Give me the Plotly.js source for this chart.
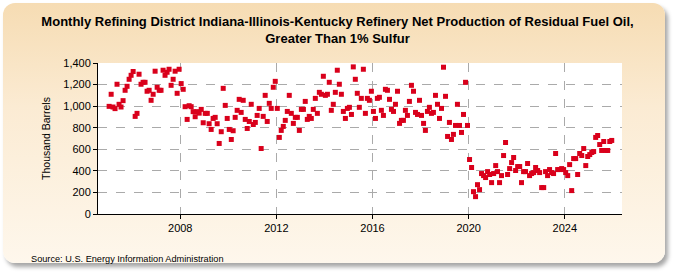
<!DOCTYPE html>
<html>
<head>
<meta charset="utf-8">
<script src="https://cdn.plot.ly/plotly-3.0.1.min.js"></script>
<style>
html,body{margin:0;padding:0;background:#ffffff;}
#wrap{position:relative;width:675px;height:275px;overflow:hidden;}
#panel{position:absolute;left:3px;top:3px;width:662px;height:260px;border-radius:12px;
background:linear-gradient(to bottom,#F6DCB3 0%,#FBEBD3 40%,#FEF7EC 100%);
box-shadow:3px 4px 4px rgba(0,0,0,0.35);}
#chart{position:absolute;left:0;top:0;width:675px;height:275px;}
</style>
</head>
<body>
<div id="wrap"><div id="panel"></div><div id="chart"></div></div>
<script>
const startYear = 2005;
const v2005 = [998,1110,992,977,1203,1017,992,1051,1147,1184,1249,1286];
const v2006 = [1321,905,933,1296,1203,1221,1221,1138,1147,1054,1110,1324];
const v2007 = [1175,1147,1147,1333,1286,1314,1342,1193,1249,1324,1119,1342];
const v2008 = [1209,1156,995,877,1004,995,949,902,949,935,970,846];
const v2009 = [933,933,837,784,886,896,837,654,763,1165,1007,886];
const v2010 = [784,691,772,896,961,1063,942,1054,877,793,858,1017];
const v2011 = [830,849,914,979,607,905,1100,858,1026,979,1175,1230];
const v2012 = [979,710,775,812,868,951,1100,933,840,896,896,775];
const v2013 = [970,970,1044,877,905,886,970,1072,933,1128,1110,1277];
const v2014 = [1100,1110,1221,961,1017,1128,1333,1203,1110,951,886,979];
const v2015 = [989,923,1364,1249,1119,989,1072,1342,933,1072,1054,1138];
const v2016 = [951,886,1072,1082,961,914,1156,1147,1063,970,951,1017];
const v2017 = [1138,840,868,868,961,914,1044,1193,1138,942,923,1054];
const v2018 = [914,840,775,951,989,933,942,1100,1017,886,979,1361];
const v2019 = [1091,719,849,691,738,821,1017,821,756,923,1221,821];
const v2020 = [505,431,207,161,272,226,375,356,338,393,366,291];
const v2021 = [375,449,393,291,356,542,663,366,421,477,524,403];
const v2022 = [440,440,291,393,393,468,356,375,384,431,403,384];
const v2023 = [245,245,393,356,412,384,375,561,412,412,421,412];
const v2024 = [384,356,458,217,514,514,366,561,542,607,449,533];
const v2025 = [551,570,579,710,728,644,589,672,589,589,672,682];

const years = [v2005,v2006,v2007,v2008,v2009,v2010,v2011,v2012,v2013,v2014,v2015,
  v2016,v2017,v2018,v2019,v2020,v2021,v2022,v2023,v2024,v2025];
const dates = [], values = [];
years.forEach((arr, i) => {
  arr.forEach((v, m) => {
    dates.push((startYear + i) + '-' + String(m + 1).padStart(2, '0') + '-15');
    values.push(v);
  });
});

const titleText = 'Monthly Refining District Indiana-Illinois-Kentucky Refinery Net Production of Residual Fuel Oil,<br>Greater Than 1% Sulfur';
const yTitle = 'Thousand Barrels';
const sourceText = 'Source: U.S. Energy Information Administration';
const FONT = 'Liberation Sans, Arial, sans-serif';

const trace = {
  x: dates, y: values, type: 'scatter', mode: 'markers',
  marker: {symbol: 'square', size: 5, color: '#D9001B'},
  hoverinfo: 'skip'
};

const layout = {
  width: 675, height: 275,
  paper_bgcolor: 'rgba(0,0,0,0)', plot_bgcolor: '#ffffff',
  margin: {l: 98, r: 53, t: 63, b: 61},
  showlegend: false,
  title: {text: titleText, x: 0.5, xanchor: 'center', yref: 'container', y: 0.905, yanchor: 'middle',
    font: {family: FONT, size: 13, color: '#000000', weight: 'bold'}},
  xaxis: {
    type: 'date', range: ['2004-07-30', '2026-05-20'],
    tick0: '2008-01-01', dtick: 'M48', tickformat: '%Y',
    showgrid: true, gridcolor: '#aaaaaa', griddash: 'dash', gridwidth: 1,
    showline: true, linecolor: '#000000', linewidth: 1,
    ticks: 'outside', ticklen: 4, tickcolor: '#000000',
    tickfont: {family: FONT, size: 11, color: '#000000'},
    zeroline: false, fixedrange: true
  },
  yaxis: {
    range: [0, 1400], dtick: 200, tickformat: ',d',
    showgrid: true, gridcolor: '#aaaaaa', griddash: 'dash', gridwidth: 1,
    showline: true, linecolor: '#000000', linewidth: 1,
    ticks: 'outside', ticklen: 4, tickcolor: '#000000',
    tickfont: {family: FONT, size: 11, color: '#000000'},
    title: {text: yTitle, standoff: 10, font: {family: FONT, size: 10.5, color: '#000000'}},
    zeroline: false, fixedrange: true
  },
  annotations: [{
    text: sourceText, xref: 'paper', yref: 'paper', x: -0.131, y: -0.25,
    xanchor: 'left', yanchor: 'top', showarrow: false,
    font: {family: FONT, size: 9.2, color: '#000000'}
  }]
};

Plotly.newPlot('chart', [trace], layout, {staticPlot: true, displayModeBar: false});
</script>
</body>
</html>
